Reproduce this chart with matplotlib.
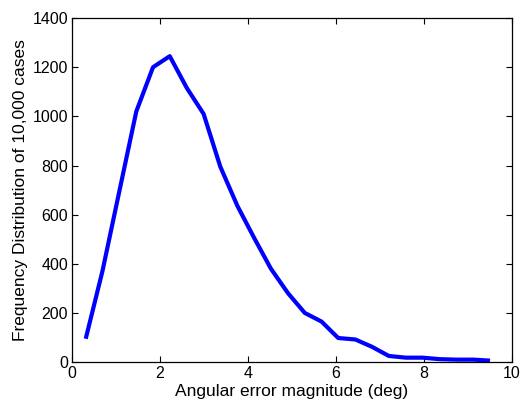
import numpy as np
import matplotlib.pyplot as plt

plt.rcParams['font.family'] = ['Liberation Sans', 'DejaVu Sans']

# angular error bins (deg) and case counts
err_deg = [0.31, 0.69, 1.08, 1.46, 1.84, 2.22, 2.61, 2.99, 3.37, 3.76,
           4.14, 4.52, 4.91, 5.29, 5.67, 6.05, 6.44, 6.82, 7.20, 7.59,
           7.97, 8.35, 8.73, 9.12, 9.50]
freq = [95, 370, 700, 1020, 1200, 1245, 1115, 1010, 795, 635,
        505, 380, 280, 200, 165, 98, 92, 62, 25, 18,
        18, 12, 10, 10, 6]

fig = plt.figure(figsize=(5.30, 4.11), dpi=100)
ax = fig.add_axes([0.136, 0.119, 0.830, 0.837])
ax.plot(err_deg, freq, color='#0000ff', lw=3.0, solid_capstyle='butt')

ax.set_xlim(0, 10)
ax.set_ylim(0, 1400)
ax.set_xticks(np.arange(0, 11, 2))
ax.set_yticks(np.arange(0, 1401, 200))
ax.tick_params(direction='in', top=True, right=True, labelsize=11.5,
               length=4, width=0.8, pad=3)
for s in ax.spines.values():
    s.set_linewidth(0.9)

ax.set_xlabel('Angular error magnitude (deg)', fontsize=12.5, labelpad=2)
ax.set_ylabel('Frequency Distribution of 10,000 cases', fontsize=12.5, labelpad=3)

fig.savefig('out.png', dpi=100)
